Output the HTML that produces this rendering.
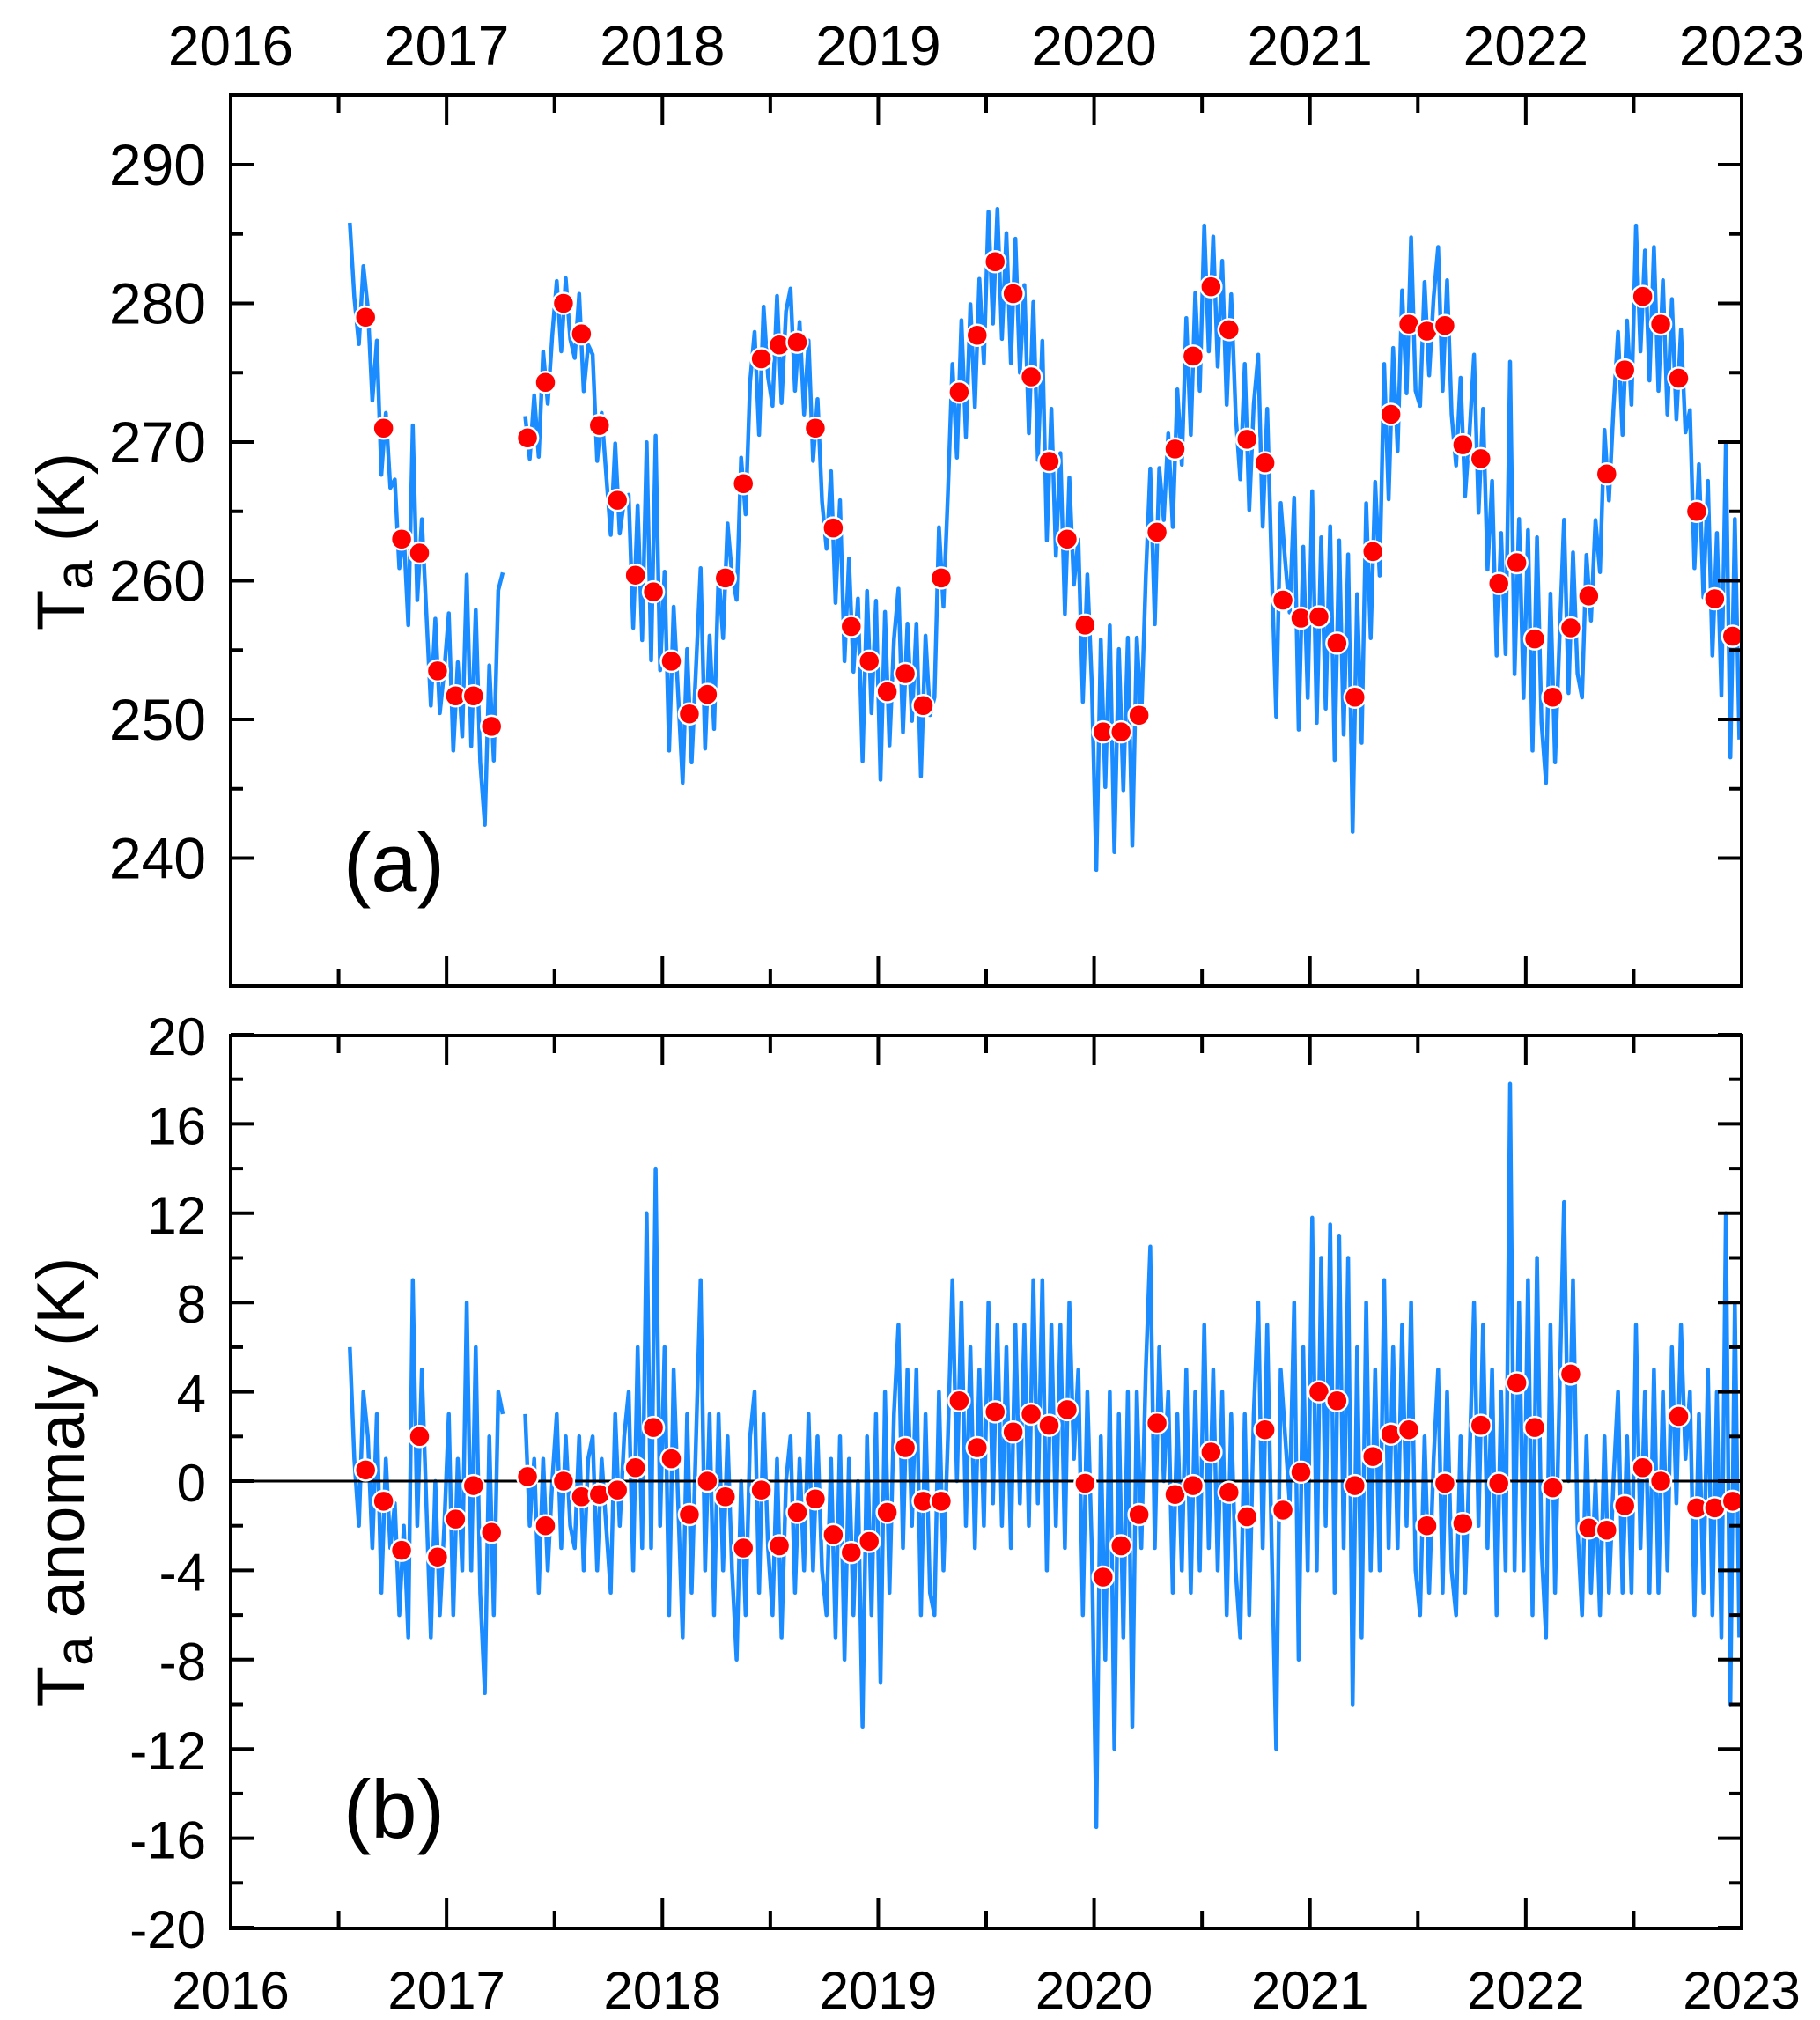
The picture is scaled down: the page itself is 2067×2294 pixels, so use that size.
<!DOCTYPE html>
<html><head><meta charset="utf-8"><style>
html,body{margin:0;padding:0;background:#fff;}
svg{display:block;font-family:"Liberation Sans",Arial,sans-serif;}
</style></head><body>
<svg id="chart" width="2067" height="2294" viewBox="0 0 2067 2294" xmlns="http://www.w3.org/2000/svg">
<g id="top"></g>
<g id="bot"></g>
</svg>
<script>
// ---- data ----
const yearTicks = [2016,2017,2018,2019,2020,2021,2022,2023];
const topYTicks = [240,250,260,270,280,290];
const botYTicks = [-20,-16,-12,-8,-4,0,4,8,12,16,20];
const monthStartA = 7;
const monthStartB = 16;
const taMonthlyA = [279,271,263,262,253.5,251.7,251.7,249.5];
const taMonthlyB = [270.3,274.3,280,277.8,271.2,265.8,260.4,259.2,254.2,250.4,
251.8,260.2,267,276,277,277.2,271,263.8,256.7,254.2,
252,253.3,251,260.2,273.6,277.7,283,280.7,274.7,268.6,
263,256.8,249.1,249.1,250.3,263.5,269.5,276.2,281.2,278.1,
270.2,268.5,258.6,257.3,257.4,255.5,251.6,262.1,272,278.5,
278,278.4,269.8,268.8,259.8,261.3,255.8,251.6,256.6,258.9,
267.7,275.2,280.5,278.5,274.6,265,258.7,256];
const anomMonthlyA = [0.5,-0.9,-3.1,2.0,-3.4,-1.7,-0.2,-2.3];
const anomMonthlyB = [0.2,-2.0,0.0,-0.7,-0.6,-0.4,0.6,2.4,
1.0,-1.5,0.0,-0.7,-3.0,-0.4,-2.9,-1.4,-0.8,-2.4,-3.2,-2.7,
-1.4,1.5,-0.9,-0.9,3.6,1.5,3.1,2.2,3.0,2.5,3.2,-0.1,
-4.3,-2.9,-1.5,2.6,-0.6,-0.2,1.3,-0.5,-1.6,2.3,-1.3,0.4,
4.0,3.6,-0.2,1.1,2.1,2.3,-2.0,-0.1,-1.9,2.5,-0.1,4.4,
2.4,-0.3,4.8,-2.1,-2.2,-1.1,0.6,0.0,2.9,-1.2,-1.2,-0.9];
const climatology = [253.3,251.9,251.9,261,270,276.3,280,278.5,271.8,266.2,259.8,256.9];
const weeklyStart = 6;
const weeklyAnom = [
null,null,6,1, -2,4,2,-3, 3,-5,1,-3, -1,-6,-2,-7, 9,-2,5,-1, -7,0,-6,-2,
3,-6,1,-4, 8,-4,6,-5, -9.5,2,-6,4, 3,null,null,null, null,3,-2,1, -5,1,-4,0,
3,-3,2,-2, -3,2,-4,1, 2,-4,1,-2, -5,3,-2,2, 4,-4,6,-3, 12,-3,14,-2,
6,-6,5,-1, -7,3,-5,2, 9,-4,3,-6, 3,-4,2,-4, -8,0,-6,2, 4,-5,3,-3,
-6,1,-7,0, 2,-5,1,-4, 3,-4,2,-4, -6,1,-7,2, -8,1,-6,0, -11,2,-6,3,
-9,4,-5,3, 7,-3,5,-2, 5,-6,3,-5, -6,4,-4,2, 9,0,8,-2, 6,-3,5,-2,
8,-1,7,-2, 6,-3,7,-1, 7,-2,9,-1, 9,-4,7,-2, 7,-3,8,1, 5,-6,4,-3,
-15.5,2,-8,4, -12,3,-7,4, -11,4,-3,5, 10.5,-3,6,0, 4,-5,3,-4, 5,-5,4,-4,
7,-3,5,-4, 4,-6,3,-4, -7,3,-6,3, 8,-3,7,-3, -12,5,2,-1, 8,-8,6,-4,
11.8,-4,10,-2, 11.5,-5,11,-3, 10,-10,6,-7, 8,-4,5,-4, 9,-3,6,-3, 7,-2,8,-4,
-6,2,-5,1, 5,-5,4,-4, -6,2,-5,1, 8,-2,7,-3, 5,-6,4,-4, 17.8,-4,8,-4,
9,-6,10,-3, -7,7,-5,4, 12.5,0,9,-2, -6,2,-5,0, -6,2,-5,0, 4,-5,2,-5,
7,-3,4,-5, 5,-5,4,-4, 6,-1,7,1, 4,-6,3,-5, 5,-6,4,-7, 12,-10,8,-7];

// ---- geometry ----
const X0=262, X1=1978;
const xs = t => X0 + (t-2016)*(X1-X0)/7;
const yTop = v => 187 + (290-v)*15.75;
const yBot = v => 2189 - (v+20)*25.35;
const NS="http://www.w3.org/2000/svg";
function mk(parent,tag,attrs){const e=document.createElementNS(NS,tag);for(const k in attrs)e.setAttribute(k,attrs[k]);parent.appendChild(e);return e;}
function climAt(t){
  const p=t-0.5; const i=Math.floor(p); const f=p-i;
  const a=climatology[((i%12)+12)%12], b=climatology[(((i+1)%12)+12)%12];
  return a+(b-a)*f;
}
function drawPanel(g, yf, top, bottom, ticks, minorStep, isTop){
  let d=""; let pen=false;
  weeklyAnom.forEach((a,i)=>{
    if(a===null){pen=false;return;}
    const mm = weeklyStart + Math.floor(i/4) + ((i%4)+0.5)/4;
    const t = 2016 + mm/12;
    const v = isTop ? climAt(mm)+a : a;
    d += (pen?"L":"M")+xs(t).toFixed(1)+" "+yf(v).toFixed(1)+" ";
    pen=true;
  });
  const line=mk(g,"path",{d:d,fill:"none",stroke:"#1a8cff","stroke-width":4.5,"stroke-linejoin":"round"});
  
  
  if(!isTop){
    const z=mk(g,"line",{x1:X0,x2:X1,y1:yf(0),y2:yf(0),stroke:"#000","stroke-width":3});
    
    
  }
  const sets = isTop ? [[monthStartA,taMonthlyA],[monthStartB,taMonthlyB]] : [[monthStartA,anomMonthlyA],[monthStartB,anomMonthlyB]];
  sets.forEach(([m0,arr])=>arr.forEach((v,i)=>{
    const t=2016+(m0+i+0.5)/12;
    const c=mk(g,"circle",{cx:xs(t),cy:yf(v),r:12,fill:"#f00",stroke:"#fff","stroke-width":2.5});
    
    
  }));
  const fr=mk(g,"rect",{x:X0,y:top,width:X1-X0,height:bottom-top,fill:"none",stroke:"#000","stroke-width":4});
  
  
  const lo=ticks[0], hi=ticks[ticks.length-1];
  for(let v=lo; v<=hi+1e-6; v+=minorStep){
    const major = ticks.some(tk=>Math.abs(tk-v)<1e-6);
    const L = major?27:14, y=yf(v);
    mk(g,"line",{x1:X0,x2:X0+L,y1:y,y2:y,stroke:"#000","stroke-width":4});
    mk(g,"line",{x1:X1,x2:X1-L,y1:y,y2:y,stroke:"#000","stroke-width":4});
  }
  ticks.forEach(v=>{
    const tx=mk(g,"text",{x:234,y:yf(v)+23,"text-anchor":"end","font-size":isTop?66:60});
    tx.textContent=String(v);
    
    
  });
  for(let k=0;k<=14;k++){
    const t=2016+k/2, x=xs(t), L=(k%2===0)?34:20;
    mk(g,"line",{x1:x,x2:x,y1:top,y2:top+L,stroke:"#000","stroke-width":4});
    mk(g,"line",{x1:x,x2:x,y1:bottom,y2:bottom-L,stroke:"#000","stroke-width":4});
  }
}
const gT=document.getElementById("top"), gB=document.getElementById("bot");
drawPanel(gT,yTop,108,1120,topYTicks,5,true);
drawPanel(gB,yBot,1176,2190,botYTicks,2,false);
yearTicks.forEach(yr=>{
  const a=mk(gT,"text",{x:xs(yr),y:74,"text-anchor":"middle","font-size":64});
  a.textContent=String(yr);
  
  
  const b=mk(gB,"text",{x:xs(yr),y:2281,"text-anchor":"middle","font-size":60});
  b.textContent=String(yr);
  
  
});
</script>
<svg style="position:absolute;left:0;top:0" width="2067" height="2294">
<text x="390" y="1012" font-size="94" font-family="Liberation Sans, sans-serif">(a)</text>
<text x="390" y="2087" font-size="94" font-family="Liberation Sans, sans-serif">(b)</text>
<text transform="translate(95,615) rotate(-90)" text-anchor="middle" font-size="76" font-family="Liberation Sans, sans-serif">T<tspan font-size="60" dy="10">a</tspan><tspan dy="-10"> (K)</tspan></text>
<text transform="translate(95,1683) rotate(-90)" text-anchor="middle" font-size="76" font-family="Liberation Sans, sans-serif">T<tspan font-size="60" dy="10">a</tspan><tspan dy="-10"> anomaly (K)</tspan></text>
</svg>
</body></html>
